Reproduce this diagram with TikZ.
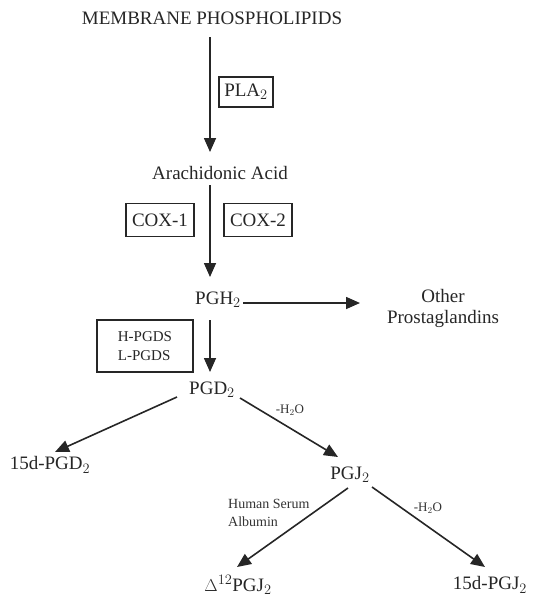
\documentclass[tikz,border=0pt]{standalone}
\usepackage{fontspec}
\setmainfont{Liberation Serif}
\usetikzlibrary{arrows.meta,calc}
\begin{document}
\begin{tikzpicture}[x=1pt,y=-1pt,
  txt/.style={inner sep=1pt,text=black!85,font=\fontsize{19}{21}\selectfont},
  small/.style={inner sep=1pt,text=black!80,font=\fontsize{14}{18}\selectfont},
  tiny/.style={inner sep=1pt,text=black!80,font=\fontsize{13}{15}\selectfont},
  enzbox/.style={draw=black!85,line width=1.5pt,inner sep=0pt,text=black!85,font=\fontsize{19}{21}\selectfont},
  arr/.style={draw=black!85,line width=1.6pt,-{Triangle[length=14pt,width=12pt]}}]
\useasboundingbox (0,0) rectangle (543,598);
\node[txt] (mem) at (212,18) {MEMBRANE PHOSPHOLIPIDS};
\node[enzbox,minimum width=54pt,minimum height=30pt] (pla) at (246,92) {PLA$_2$};
\node[txt] (ara) at (220,173) {Arachidonic Acid};
\node[enzbox,minimum width=68pt,minimum height=33pt] (cox1) at (160,220) {COX-1};
\node[enzbox,minimum width=68pt,minimum height=33pt] (cox2) at (258,220) {COX-2};
\node[txt] (pgh) at (218,300) {PGH$_2$};
\node[txt,align=center] (other) at (443,308) {Other\\Prostaglandins};
\node[enzbox,minimum width=96pt,minimum height=52pt,font=\fontsize{15}{19}\selectfont,align=left] (pgds) at (145,346) {H-PGDS\\L-PGDS};
\node[txt] (pgd) at (212,390) {PGD$_2$};
\node[txt] (d15pgd) at (50,465) {15d-PGD$_2$};
\node[tiny] (h2oa) at (290,410) {-H$_2$O};
\node[txt] (pgj) at (350,475) {PGJ$_2$};
\node[small,align=left,anchor=west] (hsa) at (227,513) {Human Serum\\Albumin};
\node[tiny] (h2ob) at (428,508) {-H$_2$O};
\node[txt] (d12) at (238,585) {$\Delta^{12}$PGJ$_2$};
\node[txt] (d15pgj) at (490,585) {15d-PGJ$_2$};
\draw[arr] ($(mem)+(-2,19)$) -- ($(ara)+(-10,-21)$);
\draw[arr] ($(ara)+(-10,12)$) -- ($(pgh)+(-8,-23)$);
\draw[arr] ($(pgh)+(25,3)$) -- ($(other)+(-83,-5)$);
\draw[arr] ($(pgh)+(-8,20)$) -- ($(pgd)+(-2,-18)$);
\draw[arr] ($(pgd)+(-35,7)$) -- ($(d15pgd)+(5,-13)$);
\draw[arr] ($(pgd)+(28,8)$) -- ($(pgj)+(-12,-18)$);
\draw[arr] ($(pgj)+(-2,13)$) -- ($(d12)+(-1,-18)$);
\draw[arr] ($(pgj)+(22,12)$) -- ($(d15pgj)+(-5,-18)$);
\end{tikzpicture}
\end{document}
